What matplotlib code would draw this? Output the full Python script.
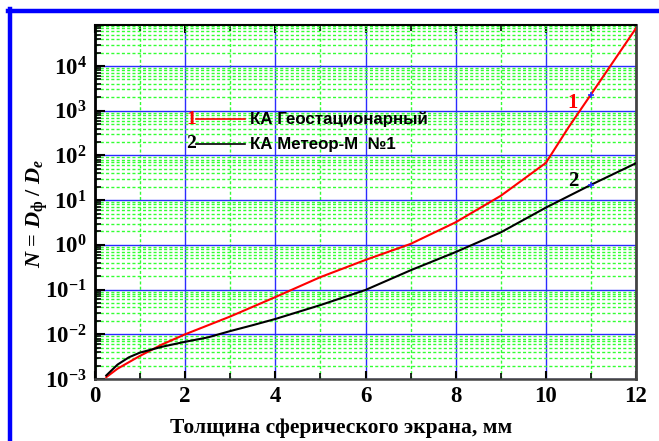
import matplotlib
matplotlib.use("Agg")
import matplotlib.pyplot as plt
import numpy as np
from matplotlib.ticker import FixedLocator, LogLocator, NullFormatter, FuncFormatter
from matplotlib.lines import Line2D

plt.rcParams['mathtext.fontset'] = 'custom'
plt.rcParams['mathtext.rm'] = 'Liberation Serif:bold'
plt.rcParams['mathtext.bf'] = 'Liberation Serif:bold'
plt.rcParams['mathtext.it'] = 'Liberation Serif:italic:bold'

# ---- data ----
x1 = [0.25, 0.5, 1.0, 1.5, 2.0, 3.0, 4.0, 5.0, 6.0, 7.0, 8.0, 9.0, 10.0, 10.5, 11.0, 12.0]
y1 = [1.1e-3, 1.7e-3, 3.3e-3, 6.0e-3, 1.0e-2, 2.5e-2, 6.8e-2, 0.19, 0.46, 1.05, 3.2, 12.5, 68, 420, 2300, 7.0e4]

x2 = [0.25, 0.5, 0.75, 1.0, 1.5, 2.0, 2.5, 3.0, 3.5, 4.0, 5.0, 6.0, 7.0, 8.0, 9.0, 10.0, 11.0, 12.0]
y2 = [1.2e-3, 2.1e-3, 3.05e-3, 3.9e-3, 5.3e-3, 6.8e-3, 8.5e-3, 1.18e-2, 1.6e-2, 2.2e-2, 4.5e-2, 9.8e-2, 0.27, 0.69, 1.9, 6.8, 22, 67]

marker_x = 11.0
xticks = [0, 2, 4, 6, 8, 10, 12]
ydecades = [-3, -2, -1, 0, 1, 2, 3, 4]
legend_labels = ["КА Геостационарный", "КА Метеор-М  №1"]
xlabel = "Толщина сферического экрана, мм"

fig = plt.figure(figsize=(6.59, 4.41), dpi=100)
ax = fig.add_axes([95/659, 1-379/441, (636-95)/659, (379-25)/441])

ax.set_yscale('log')
ax.set_xlim(0, 12)
ax.set_ylim(1e-3, 10**4.917)

blue = '#2b2bff'
green = '#33ff33'
ax.xaxis.set_major_locator(FixedLocator(xticks))
ax.xaxis.set_minor_locator(FixedLocator([1, 3, 5, 7, 9, 11]))
ax.yaxis.set_major_locator(FixedLocator([10.0**d for d in ydecades]))
ax.yaxis.set_minor_locator(LogLocator(base=10, subs=np.arange(2, 10), numticks=20))
ax.yaxis.set_minor_formatter(NullFormatter())
ax.yaxis.set_major_formatter(FuncFormatter(lambda v, p: r'$\mathbf{10^{%d}}$' % round(np.log10(v))))
ax.xaxis.set_major_formatter(FuncFormatter(lambda v, p: '%d' % v))

ax.grid(True, which='major', color=blue, lw=1.0, ls='-', zorder=1)
ax.grid(True, which='minor', color=green, lw=1.0, ls=(0, (2.2, 1.6)), zorder=0)
ax.set_axisbelow(True)

ax.tick_params(axis='x', which='major', direction='in', length=6, width=1.5, top=True, bottom=True,
               labelsize=16.5, pad=5)
ax.tick_params(axis='x', which='minor', direction='in', length=4, width=1.2, top=True, bottom=True)
ax.tick_params(axis='y', which='major', direction='in', length=7, width=1.5, left=True, right=False,
               labelsize=16.5, pad=6)
ax.tick_params(axis='y', which='minor', direction='in', length=4, width=1.2, left=True, right=False)
for lab in ax.get_xticklabels():
    lab.set_fontfamily('Liberation Serif')
    lab.set_fontweight('bold')

ax.spines['left'].set_linewidth(2.0)
ax.spines['bottom'].set_linewidth(1.8)
ax.spines['bottom'].set_color('#444444')
ax.spines['top'].set_linewidth(1.5)
ax.spines['right'].set_linewidth(2.0)
ax.spines['right'].set_color('#444444')

ax.plot(x1, y1, color='#ff0000', lw=1.5, zorder=3)
ax.plot(x2, y2, color='black', lw=1.5, zorder=3)
ax.plot([marker_x], [y1[x1.index(marker_x)]], marker='+', color=blue, ms=5, mew=1.2, zorder=4)
ax.plot([marker_x], [y2[x2.index(marker_x)]], marker='+', color=blue, ms=5, mew=1.2, zorder=4)

# curve labels
ax.text(10.6, 1480, '1', color='#ff0000', fontfamily='Liberation Serif', fontweight='bold',
        fontsize=15, ha='center', va='center')
ax.text(10.62, 27, '2', color='black', fontfamily='Liberation Serif', fontweight='bold',
        fontsize=15, ha='center', va='center')

# legend
def axc(px, py):
    return (px - 95) / 541, (379 - py) / 354

for i, (lab, col, num) in enumerate(zip(legend_labels, ['#ff0000', 'black'], ['1', '2'])):
    py = 119 + i * 25
    nx, ny = axc(191, py)
    ax.text(nx, ny, num, transform=ax.transAxes, color=col, fontfamily='Liberation Serif',
            fontweight='bold', fontsize=14, ha='center', va='center')
    lx0, _ = axc(196, py)
    lx1, _ = axc(245, py)
    ax.add_line(Line2D([lx0, lx1], [ny, ny], transform=ax.transAxes, color=col, lw=1.2))
    tx, _ = axc(250, py)
    ax.text(tx, ny, lab, transform=ax.transAxes, color='black', fontfamily='Liberation Sans',
            fontweight='bold', fontsize=12.2, ha='left', va='center')

fig.text(341/659, 1-428/441, xlabel, fontfamily='Liberation Serif', fontweight='bold',
         fontsize=15.5, ha='center', va='center')
fig.text(37/659, 1-213/441, r'$N$ = $D_{\mathrm{ф}}$ / $D_e$', rotation=90,
         fontfamily='Liberation Serif', fontweight='bold', fontsize=16, ha='center', va='center')

# blue frame
fig.add_artist(Line2D([10/659, 10/659], [0, 1-9/441], color='#0000ff', lw=3.2))
fig.add_artist(Line2D([8/659, 1], [1-10.5/441, 1-10.5/441], color='#0000ff', lw=3.2))

fig.savefig('out.png', dpi=100)
